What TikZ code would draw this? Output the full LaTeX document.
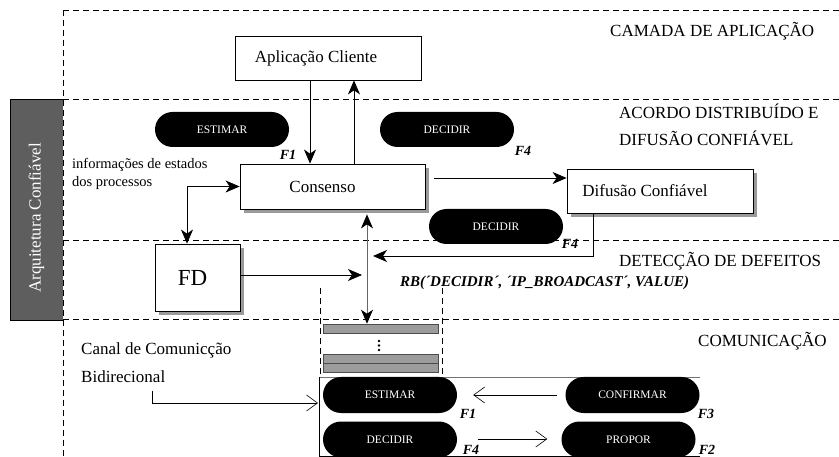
\documentclass[tikz,border=0pt]{standalone}
\usepackage{fontspec}
\setmainfont{Liberation Serif}
\usetikzlibrary{arrows.meta,shapes.misc,shadows}
\definecolor{arqgray}{HTML}{5E5E5E}
\definecolor{shgray}{HTML}{9A9A9A}
\definecolor{bargray}{HTML}{9C9C9C}
\begin{document}
\begin{tikzpicture}[x=1pt,y=-1pt,
  layer/.style={dash pattern=on 6pt off 4pt, line width=0.7pt},
  box/.style={draw, fill=white, line width=0.8pt, inner sep=0pt, font=\fontsize{17}{20}\selectfont},
  shbox/.style={box, drop shadow={shadow xshift=4pt, shadow yshift=-4pt, fill=shgray, opacity=1}},
  pill/.style={rounded rectangle, fill=black, text=white, minimum width=134pt, minimum height=35pt, inner sep=0pt, font=\fontsize{11.5}{13}\selectfont},
  flab/.style={inner sep=0pt, font=\fontsize{14}{16}\selectfont\bfseries\itshape},
  txt/.style={inner sep=0pt, font=\fontsize{17}{20}\selectfont},
  stxt/.style={inner sep=0pt, font=\fontsize{14.5}{17}\selectfont},
  arr/.style={-{Stealth[length=14pt,width=12pt,inset=4pt,black]}, line width=0.8pt},
  darr/.style={{Stealth[length=14pt,width=12pt,inset=4pt,black]}-{Stealth[length=14pt,width=12pt,inset=4pt,black]}, line width=0.8pt},
  openarr/.style={-{Straight Barb[length=11pt,width=16pt]}, line width=0.6pt},
  barbox/.style={draw=black!70, fill=bargray, line width=0.6pt, minimum width=115pt, minimum height=9pt, inner sep=0pt}
]
\useasboundingbox (0,0) rectangle (839,457);

% Arquitetura block
\node[fill=arqgray, rotate=90, minimum width=221pt, minimum height=53pt, inner sep=0pt,
      text=white, font=\fontsize{17}{20}\selectfont] (arq) at (36.5,209.5) {\hspace*{-17pt}Arquitetura Confiável};
\draw[line width=0.7pt] (63,99) -- (10,99) -- (10,320) -- (63,320);

% layer separators
\draw[layer] (63,10) -- (839,10);
\draw[layer] (63,99) -- (839,99);
\draw[layer] (63,240) -- (839,240);
\draw[layer] (63,319) -- (839,319);
\draw[layer] (63,10) -- (63,457);

% layer labels
\node[txt, anchor=base west] (lapp) at (610,37) {CAMADA DE APLICAÇÃO};
\node[txt, anchor=base west] (lacc1) at (619,119) {ACORDO DISTRIBUÍDO E};
\node[txt, anchor=base west] (lacc2) at (619,146) {DIFUSÃO CONFIÁVEL};
\node[txt, anchor=base west] (ldet) at (619,267) {DETECÇÃO DE DEFEITOS};
\node[txt, anchor=base west] (lcom) at (698,347) {COMUNICAÇÃO};

% boxes
\node[box, minimum width=186pt, minimum height=44pt] (app) at (328,58) {\hspace*{-24pt}Aplicação Cliente};
\node[shbox, minimum width=185pt, minimum height=45pt] (cons) at (332.5,186.5) {\hspace*{-20pt}Consenso};
\node[shbox, minimum width=186pt, minimum height=44pt] (dif) at (660,191) {\hspace*{-30pt}Difusão Confiável};
\node[shbox, minimum width=85pt, minimum height=67pt, font=\fontsize{23}{26}\selectfont] (fd) at (197.5,277.5) {\hspace*{-10pt}FD};

% channel queue
\draw[layer] (320,288) -- (320,376);
\draw[layer] (442,288) -- (442,376);
\node[barbox] (bar1) at (380.5,328.5) {};
\node[barbox] (bar2) at (380.5,358.5) {};
\node[barbox] (bar3) at (380.5,367.5) {};
\fill (379,341) circle (1.3pt);
\fill (379,345.5) circle (1.3pt);
\fill (379,350) circle (1.3pt);

% bottom box
\draw[line width=0.8pt, black!55] (319,377) -- (700,377);
\draw[line width=0.8pt] (700,456.5) -- (319,456.5) -- (319,377);

% pills
\node[pill] (est1) at (222,129.5) {ESTIMAR};
\node[pill] (dec1) at (447,129.5) {DECIDIR};
\node[pill] (dec3) at (496,226.5) {DECIDIR};
\node[pill, minimum height=36pt] (est2) at (390,395) {ESTIMAR};
\node[pill, minimum height=36pt] (conf) at (632.5,395) {CONFIRMAR};
\node[pill, minimum height=36pt] (dec2) at (390,439.5) {DECIDIR};
\node[pill, minimum height=36pt] (prop) at (628.5,439.5) {PROPOR};

% F labels
\node[flab] (f1a) at (288,155) {F1};
\node[flab] (f4a) at (523,151) {F4};
\node[flab] (f4b) at (570,244) {F4};
\node[flab] (f1b) at (468,414) {F1};
\node[flab] (f3) at (706,414) {F3};
\node[flab] (f4c) at (471,450) {F4};
\node[flab] (f2) at (707,450) {F2};

% texts
\node[stxt, anchor=base west] (info1) at (72,169) {informações de estados};
\node[stxt, anchor=base west] (info2) at (72,187) {dos processos};
\node[txt, anchor=base west] (canal) at (81,355) {Canal de Comunicção};
\node[txt, anchor=base west] (bidi) at (81,383) {Bidirecional};
\node[inner sep=0pt, anchor=base west, font=\fontsize{15}{18}\selectfont\bfseries\itshape] (rb) at (400,287)
  {RB(´DECIDIR´, ´IP\_BROADCAST´, VALUE)};

% coordinates
\coordinate (rbin) at (373,256);
\coordinate (fdin) at (362,275);
\coordinate (cstart) at (152,391);
\coordinate (cin) at (318,403);

% connectors
\draw[arr] (310,0 |- app.south) -- (310,0 |- cons.north);
\draw[arr] (354,0 |- cons.north) -- (354,0 |- app.south);
\draw[darr] (187,0 |- fd.north) |- (cons.west);
\draw[arr, shorten <=9pt] (cons.east |- 0,178) -- (dif.west |- 0,178);
\draw[arr] (593,0 |- dif.south) |- (rbin);
\draw[arr] (fd.east |- fdin) -- (fdin);
\draw[darr, draw=black!60, shorten <=5pt] (367,0 |- cons.south) -- (367,0 |- bar1.north);
\draw[openarr, shorten <=8pt, shorten >=16pt] (conf.west) -- (est2.east);
\draw[openarr, shorten <=21pt, shorten >=14pt] (dec2.east |- 0,439) -- (prop.west |- 0,439);
\draw[openarr] (cstart) |- (cin);
\end{tikzpicture}
\end{document}
